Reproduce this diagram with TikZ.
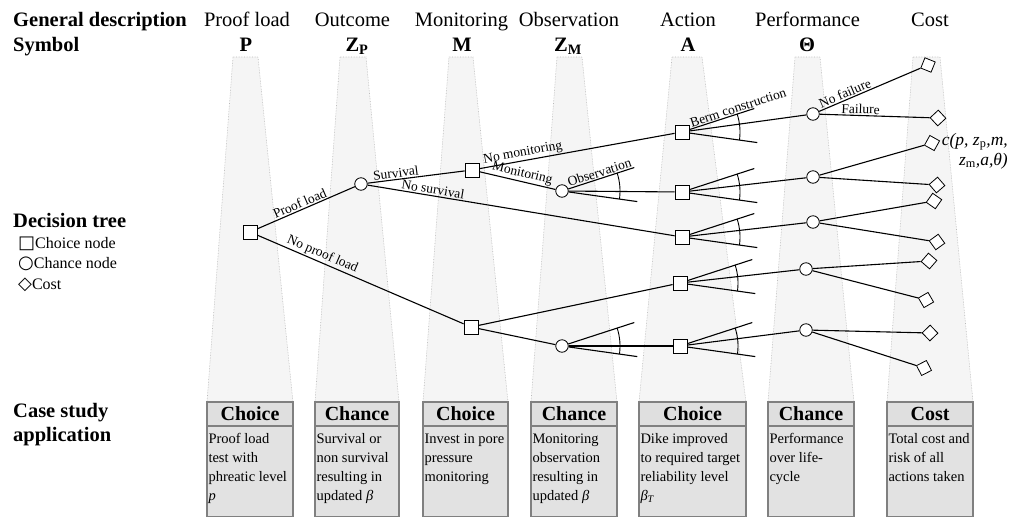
\documentclass[tikz,border=0pt]{standalone}
\usepackage{fontspec}
\setmainfont{Liberation Serif}
\newfontfamily\symfont{DejaVu Sans}
\usetikzlibrary{shapes.geometric}

\tikzset{
  band/.style={fill=gray!8, draw=gray!55, densely dotted, line width=0.6pt},
  choice/.style={draw, fill=white, rectangle, minimum size=14pt, inner sep=0pt, line width=0.8pt},
  chance/.style={draw, fill=white, circle, minimum size=12.5pt, inner sep=0pt, line width=0.8pt},
  cost/.style={draw, fill=white, diamond, minimum size=16pt, inner sep=0pt, line width=0.8pt},
  branch/.style={line width=1.1pt},
  lab/.style={font=\fontsize{13.5}{15}\selectfont, sloped, above, inner sep=1.2pt},
  title/.style={font=\fontsize{20.5}{24}\selectfont, inner sep=0pt},
  titleb/.style={font=\fontsize{20.5}{24}\selectfont\bfseries, inner sep=0pt},
  legend/.style={font=\fontsize{16}{18}\selectfont, inner sep=0pt},
  hdr/.style={draw=black!50, line width=1.1pt, fill=gray!25, inner sep=0pt,
    minimum height=24pt, font=\fontsize{20}{22}\selectfont\bfseries},
  body/.style={draw=black!50, line width=1.1pt, fill=gray!23, inner xsep=1.5pt, inner ysep=3.5pt,
    anchor=north, font=\fontsize{14.5}{19}\selectfont}
}

\begin{document}
\begin{tikzpicture}[x=1pt,y=-1pt]
\useasboundingbox (0,0) rectangle (1009,517);

% columns
\foreach \ta/\tb/\ba/\bb in {233/258/207/293, 340/366/315/399, 449/473/423/508, 557/582/531/617, 672/702/639/746, 795/820/768/854, 913/940/887/973}{
    \draw[band] (\ta,57) -- (\tb,57) -- (\bb,402) -- (\ba,402) -- cycle;
}

% row headings
\node[titleb, anchor=base west] (gd) at (13,26) {General description};
\node[titleb, anchor=base west] (sy) at (13,51) {Symbol};
\foreach \n/\x/\t in {tP/247/Proof load, tZp/352.5/Outcome, tM/461.5/Monitoring, tZm/569/Observation, tA/688/Action, tTh/807.5/Performance, tC/930/Cost}{
    \node[title, anchor=base] (\n) at (\x,26) {\t};
}
\foreach \n/\x/\t in {sP/246/P, sZp/357/Z\textsubscript{P}, sM/462/M, sZm/568/Z\textsubscript{M}, sA/688/A, sTh/807/Θ}{
    \node[titleb, anchor=base] (\n) at (\x,51) {\t};
}

% legend
\node[titleb, anchor=base west] (dt) at (13,227) {Decision tree};
\node[legend, anchor=base west] (lgChoice) at (18,248) {{\symfont\fontsize{18}{18}\selectfont □}Choice node};
\node[legend, anchor=base west] (lgChance) at (18,268) {{\symfont\fontsize{18}{18}\selectfont ○}Chance node};
\node[legend, anchor=base west] (lgCost) at (18,289) {{\symfont\fontsize{18}{18}\selectfont ◇}Cost};
\node[titleb, anchor=base west] (cs1) at (13,417) {Case study};
\node[titleb, anchor=base west] (cs2) at (13,441) {application};

% case study boxes
\foreach \l/\r/\n/\h/\b in {
    207/293/P/Choice/{Proof load\\test with\\phreatic level\\\textit{p}},
    315/399/Zp/Chance/{Survival or\\non survival\\resulting in\\updated \textit{β}},
    423/508/M/Choice/{Invest in pore\\pressure\\monitoring},
    531/617/Zm/Chance/{Monitoring\\observation\\resulting in\\updated \textit{β}},
    639/746/A/Choice/{Dike improved\\to required target\\reliability level\\\textit{β\textsubscript{T}}},
    768/854/Th/Chance/{Performance\\over life-\\cycle},
    887/973/C/Cost/{Total cost and\\risk of all\\actions taken}}{
    \pgfmathsetmacro\bw{\r-\l-3}
    \node[body] (bd\n) at ({(\l+\r)/2},426) {\parbox[t][83pt][t]{\bw pt}{\raggedright\strut\b}};
    \node[hdr, minimum width={(\r-\l)*1pt}] (hd\n) at ({(\l+\r)/2},414) {\h};
}

% tree nodes
\node[choice] (p0) at (250,232) {};
\node[chance] (zp) at (361,184) {};
\node[choice] (m1) at (472,170) {};
\node[choice] (m2) at (471,327) {};
\node[chance] (zm1) at (562,191) {};
\node[chance] (zm2) at (562,346) {};
\node[choice] (a1) at (682,132) {};
\node[choice] (a2) at (682,192) {};
\node[choice] (a3) at (682,237) {};
\node[choice] (a4) at (680,283) {};
\node[choice] (a5) at (680,346) {};
\node[chance] (t1) at (813,114) {};
\node[chance] (t2) at (813,177) {};
\node[chance] (t3) at (813,222) {};
\node[chance] (t4) at (806,269) {};
\node[chance] (t5) at (806,330) {};
\foreach \n/\x/\y/\r in {c1/928/65/23, c2/938/118/-2, c3/932/143/16, c4/937/185/-4, c5/934/201/10, c6/937/242/-9, c7/929/261/4, c8/926/300/-15, c9/930/333/-1, c10/924/368/-18}{
    \node[cost, rotate=\r] (\n) at (\x,\y) {};
}

% branches
\draw[branch] (p0) -- node[lab, pos=0.46] (lPL) {Proof load} (zp);
\draw[branch] (p0) -- node[lab, pos=0.3] (lNPL) {No proof load} (m2);
\draw[branch] (zp) -- node[lab, pos=0.3] (lS) {Survival} (m1);
\draw[branch] (zp) -- node[lab, pos=0.21] (lNS) {No survival} (a3);
\draw[branch] (m1) -- node[lab, pos=0.23] (lNM) {No monitoring} (a1);
\draw[branch] (m1) -- node[lab, pos=0.54] (lM) {Monitoring} (zm1);
\draw[branch] (zm1) -- (a2);
\draw[branch] (m2) -- (a4);
\draw[branch] (m2) -- (zm2);
\draw[branch] (zm2) -- (a5);
\foreach \a/\t in {a1/t1, a2/t2, a3/t3, a4/t4, a5/t5}{
    \draw[branch] (\a) -- (\t);
}
\draw[branch] (t1) -- node[lab, pos=0.28] (lNF) {No failure} (c1);
\draw[branch] (t1) -- node[lab, pos=0.37] (lF) {Failure} (c2);
\foreach \a/\c in {t2/c3, t2/c4, t3/c5, t3/c6, t4/c7, t4/c8, t5/c9, t5/c10}{
    \draw[branch] (\a) -- (\c);
}

% fans of alternatives
\foreach \n in {zm1, zm2, a1, a2, a3, a4, a5}{
    \draw[branch] (\n) -- ++(-18:76);
    \draw[branch] (\n) -- ++(8:76);
    \draw[line width=0.9pt] (\n.center) ++(-18:58) arc[start angle=-18, end angle=8, radius=58];
}
\path (zm1) -- ++(-18:76) node[lab, pos=0.5] (lObs) {Observation};
\path (a1) -- ++(-18:76) node[lab, pos=0.78] (lBerm) {Berm construction};

% cost function
\node[font=\fontsize{17.5}{20}\selectfont\itshape, anchor=north east, align=right, inner sep=0pt] (cf) at (1008,133)
    {c(p, z\textsubscript{\upshape p},m,\\ z\textsubscript{\upshape m},a,θ)};

\end{tikzpicture}
\end{document}
